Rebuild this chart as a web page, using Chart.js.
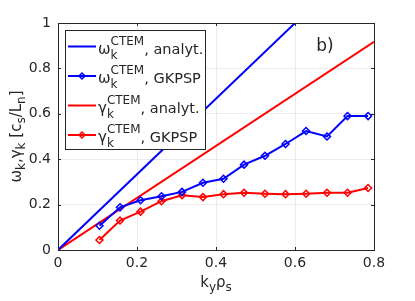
<!DOCTYPE html>
<html>
<head>
<meta charset="utf-8">
<script src="https://cdn.jsdelivr.net/npm/chart.js@4/dist/chart.umd.min.js"></script>
<style>
  html, body { margin: 0; padding: 0; background: #fff; }
  #wrap { width: 415px; height: 301px; }
</style>
</head>
<body>
<div id="wrap"><canvas id="chart" width="415" height="301"></canvas></div>
<script>
// values
const kyRho = [0.105, 0.157, 0.209, 0.262, 0.314, 0.367, 0.419, 0.471, 0.524, 0.576, 0.628, 0.681, 0.733, 0.785];
const omegaGkpsp = [0.107, 0.188, 0.219, 0.237, 0.256, 0.296, 0.314, 0.376, 0.415, 0.467, 0.524, 0.500, 0.590, 0.590];
const gammaGkpsp = [0.044, 0.130, 0.169, 0.215, 0.241, 0.233, 0.246, 0.252, 0.248, 0.246, 0.248, 0.252, 0.252, 0.273];
const analytX = [0, 0.8];
const omegaAnalyt = [0, 1.333];
const gammaAnalyt = [0, 0.917];
const xTicks = [0, 0.2, 0.4, 0.6, 0.8];
const yTicks = [0, 0.2, 0.4, 0.6, 0.8, 1];

const FONT = "'DejaVu Sans', sans-serif";
const INK = '#262626';
const BLUE = '#0000ff';
const RED = '#ff0000';

function points(xs, ys)
{
    return xs.map((x, i) => ({ x: x, y: ys[i] }));
}

function lineDataset(label, xs, ys, color, markers)
{
    return {
        label: label,
        data: points(xs, ys),
        borderColor: color,
        backgroundColor: 'rgba(0,0,0,0)',
        borderWidth: 2,
        pointStyle: 'rectRot',
        pointRadius: markers ? 3.5 : 0,
        pointBorderWidth: 1.5,
        pointBorderColor: color,
        pointBackgroundColor: 'rgba(0,0,0,0)',
        tension: 0
    };
}

// text pieces: [text, size, dy]
function richWidth(ctx, parts)
{
    let w = 0;
    for (const p of parts) { ctx.font = p[1] + 'px ' + FONT; w += ctx.measureText(p[0]).width; }
    return w;
}

function drawRich(ctx, parts, x, y, align)
{
    let cx = align === 'center' ? x - richWidth(ctx, parts) / 2 : x;
    ctx.textAlign = 'left';
    ctx.textBaseline = 'alphabetic';
    for (const p of parts)
    {
        ctx.font = p[1] + 'px ' + FONT;
        ctx.fillText(p[0], cx, y + (p[2] || 0));
        cx += ctx.measureText(p[0]).width;
    }
}

const legendItems = [
    { sym: 'ω', tail: ', analyt.', color: BLUE, marker: false },
    { sym: 'ω', tail: ', GKPSP', color: BLUE, marker: true },
    { sym: 'γ', tail: ', analyt.', color: RED, marker: false },
    { sym: 'γ', tail: ', GKPSP', color: RED, marker: true }
];

const decorPlugin = {
    id: 'decor',
    afterDraw(chart)
    {
        const ctx = chart.ctx;
        const a = chart.chartArea;
        const xs = chart.scales.x, ys = chart.scales.y;
        ctx.save();

        // box and inward ticks
        ctx.strokeStyle = INK;
        ctx.lineWidth = 1;
        ctx.strokeRect(Math.round(a.left) + 0.5, Math.round(a.top) + 0.5, Math.round(a.right - a.left), Math.round(a.bottom - a.top));
        ctx.beginPath();
        for (const t of xTicks)
        {
            const px = Math.round(xs.getPixelForValue(t)) + 0.5;
            ctx.moveTo(px, a.bottom); ctx.lineTo(px, a.bottom - 3);
            ctx.moveTo(px, a.top); ctx.lineTo(px, a.top + 3);
        }
        for (const t of yTicks)
        {
            const py = Math.round(ys.getPixelForValue(t)) + 0.5;
            ctx.moveTo(a.left, py); ctx.lineTo(a.left + 3, py);
            ctx.moveTo(a.right, py); ctx.lineTo(a.right - 3, py);
        }
        ctx.stroke();

        ctx.fillStyle = INK;
        // x title
        drawRich(ctx, [['k', 15, 0], ['y', 12, 4], ['ρ', 15, 0], ['s', 12, 4]], (a.left + a.right) / 2, 287, 'center');
        // y title
        ctx.save();
        ctx.translate(21, (a.top + a.bottom) / 2);
        ctx.rotate(-Math.PI / 2);
        drawRich(ctx, [['ω', 15, 0], ['k', 12, 4], [',γ', 15, 0], ['k', 12, 4], [' [c', 15, 0], ['s', 12, 4], ['/L', 15, 0], ['n', 12, 4], [']', 15, 0]], 0, 0, 'center');
        ctx.restore();

        // panel label
        ctx.font = '17px ' + FONT;
        ctx.textAlign = 'center';
        ctx.textBaseline = 'middle';
        ctx.fillText('b)', 325, 47);

        // legend
        const bx = 65.5, by = 30.5, bw = 140, bh = 119;
        ctx.fillStyle = '#fff';
        ctx.fillRect(bx, by, bw, bh);
        ctx.strokeStyle = INK;
        ctx.strokeRect(bx, by, bw, bh);
        legendItems.forEach((it, i) => {
            const cy = 46.5 + i * 29.5;
            ctx.strokeStyle = it.color;
            ctx.lineWidth = 2;
            ctx.beginPath();
            ctx.moveTo(68, cy); ctx.lineTo(96, cy);
            ctx.stroke();
            if (it.marker)
            {
                ctx.lineWidth = 1.5;
                ctx.beginPath();
                ctx.moveTo(82, cy - 3); ctx.lineTo(85, cy); ctx.lineTo(82, cy + 3); ctx.lineTo(79, cy);
                ctx.closePath();
                ctx.stroke();
            }
            ctx.fillStyle = INK;
            drawRich(ctx, [[it.sym, 15, 0]], 98, cy + 7);
            const w = richWidth(ctx, [[it.sym, 15]]);
            drawRich(ctx, [['CTEM', 12, 0]], 98 + w, cy - 2);
            drawRich(ctx, [['k', 12, 0]], 98 + w, cy + 12);
            drawRich(ctx, [[it.tail, 14.5, 0]], 98 + w + richWidth(ctx, [['CTEM', 12]]), cy + 7);
        });

        ctx.restore();
    }
};

new Chart(document.getElementById('chart'), {
    type: 'line',
    data: {
        datasets: [
            lineDataset('omega analyt', analytX, omegaAnalyt, BLUE, false),
            lineDataset('omega GKPSP', kyRho, omegaGkpsp, BLUE, true),
            lineDataset('gamma analyt', analytX, gammaAnalyt, RED, false),
            lineDataset('gamma GKPSP', kyRho, gammaGkpsp, RED, true)
        ]
    },
    options: {
        responsive: false,
        animation: false,
        layout: { padding: { left: 0, top: 23, right: 41, bottom: 0 } },
        plugins: { legend: { display: false }, tooltip: { enabled: false } },
        scales: {
            x: {
                type: 'linear',
                min: 0, max: 0.8,
                afterBuildTicks: s => { s.ticks = xTicks.map(v => ({ value: v })); },
                afterFit: s => { s.height = 51; },
                ticks: { color: INK, font: { family: FONT, size: 14 }, padding: 5, maxRotation: 0,
                         callback: v => String(+v.toFixed(1)) },
                grid: { color: '#ebebeb', drawTicks: false },
                border: { color: INK, width: 1 }
            },
            y: {
                min: 0, max: 1,
                afterBuildTicks: s => { s.ticks = yTicks.map(v => ({ value: v })); },
                afterFit: s => { s.width = 58; },
                ticks: { color: INK, font: { family: FONT, size: 14 }, padding: 7,
                         callback: v => String(+v.toFixed(1)) },
                grid: { color: '#ebebeb', drawTicks: false },
                border: { color: INK, width: 1 }
            }
        }
    },
    plugins: [decorPlugin]
});
</script>
</body>
</html>
